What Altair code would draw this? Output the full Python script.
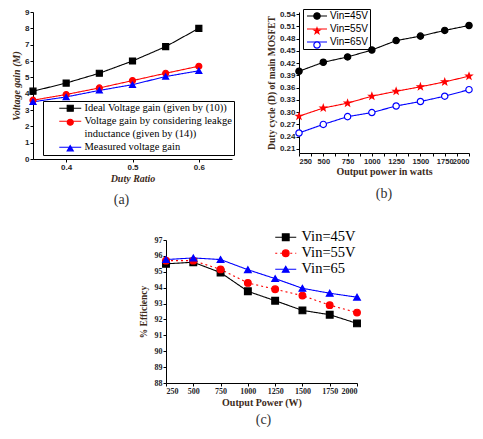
import math
import altair as alt
import pandas as pd

# ---------------- data ----------------
# Panel (a)
duty = [0.35, 0.40, 0.45, 0.50, 0.55, 0.60]
ideal_gain = [4.15, 4.65, 5.25, 6.0, 6.88, 8.0]
leak_gain = [3.6, 3.95, 4.35, 4.8, 5.25, 5.68]
meas_gain = [3.5, 3.8, 4.2, 4.55, 5.05, 5.4]
a_names = ["Ideal Voltage gain (given by (10))",
           "Voltage gain by considering leakge| inductance (given by (14))",
           "Measured voltage gain"]

# Panel (b)
power = [250, 500, 750, 1000, 1250, 1500, 1750, 2000]
duty45 = [0.40, 0.422, 0.435, 0.452, 0.475, 0.486, 0.50, 0.512]
duty55 = [0.29, 0.31, 0.322, 0.339, 0.351, 0.362, 0.374, 0.388]
duty65 = [0.249, 0.27, 0.289, 0.299, 0.315, 0.326, 0.339, 0.355]
b_names = ["Vin=45V", "Vin=55V", "Vin=65V"]

# Panel (c)
eff45 = [95.5, 95.6, 94.95, 93.77, 93.18, 92.57, 92.3, 91.75]
eff55 = [95.7, 95.7, 95.15, 94.3, 93.9, 93.5, 92.9, 92.43]
eff65 = [95.77, 95.87, 95.77, 95.13, 94.57, 93.96, 93.65, 93.4]
c_names = ["Vin=45V", "Vin=55V", "Vin=65"]

STAR = ("M0,-1L0.235,-0.324L0.951,-0.309L0.380,0.124L0.588,0.809L0,0.4"
        "L-0.588,0.809L-0.380,0.124L-0.951,-0.309L-0.235,-0.324Z")

SERIF = "Liberation Serif"
SANS = "Liberation Sans"
TXT = "#1e1e28"
TTL = "#3d2b1a"
SUF = "~"


def long_df(xs, series, names):
    rows = []
    for name, ys in zip(names, series):
        for x, y in zip(xs, ys):
            rows.append({"x": x, "y": y, "s": name, "s2": name + SUF})
    return pd.DataFrame(rows)


def panel(df, names, xscale, yscale, xaxis, yaxis, colors, fills, shapes, dashes,
          msize, line_len, line_start, lx, ly, lfont, lsize, lpad, lrow, box,
          width, height, caption):
    sw = 1.2
    r = math.sqrt(msize) / 2
    w = math.ceil(math.sqrt(msize) + sw)
    s0 = line_start - lpad - w / 2
    path = f"M{s0 / r:.3f},0H{(s0 + line_len) / r:.3f}"
    moff = s0 + line_len / 2
    lab_off = s0 + line_len + 2 - w / 2
    names2 = [n + SUF for n in names]
    common = dict(orient="none", title=None, labelFont=lfont, labelFontSize=lsize,
                  labelLimit=500, padding=lpad, rowPadding=lrow, symbolSize=msize,
                  labelOffset=lab_off, symbolStrokeWidth=sw)
    leg_line = alt.Legend(legendX=lx, legendY=ly, symbolType=path,
                          labelColor="#000000", labelExpr="split(datum.label, '|')",
                          strokeColor="#000000" if box else "transparent",
                          **common)
    leg_pt = alt.Legend(legendX=lx + moff, legendY=ly, labelColor="transparent",
                        labelExpr="indexof(datum.label, '|') >= 0 ? [' ', ' '] : ' '",
                        **common)
    base = alt.Chart(df)
    x = alt.X("x:Q", scale=xscale, axis=xaxis)
    y = alt.Y("y:Q", scale=yscale, axis=yaxis)
    line = base.mark_line(strokeWidth=1.1).encode(
        x=x, y=y,
        color=alt.Color("s:N", scale=alt.Scale(domain=names, range=colors), legend=leg_line),
        strokeDash=alt.StrokeDash("s:N", scale=alt.Scale(domain=names, range=dashes), legend=leg_line),
    )
    pts = base.mark_point(size=msize, filled=True, opacity=1, strokeWidth=sw).encode(
        x=x, y=y,
        shape=alt.Shape("s2:N", scale=alt.Scale(domain=names2, range=shapes), legend=leg_pt),
        fill=alt.Fill("s2:N", scale=alt.Scale(domain=names2, range=fills), legend=leg_pt),
        stroke=alt.Stroke("s2:N", scale=alt.Scale(domain=names2, range=colors), legend=leg_pt),
    )
    return alt.layer(line, pts).properties(width=width, height=height, title=caption)


def axis(values, fmt, title, lfont, lsize, tfont, tsize, tstyle, label_expr=None, title_pad=None):
    kw = dict(values=values, format=fmt, title=title, grid=False, labelOverlap=False,
              labelFont=lfont, labelFontSize=lsize, labelFontWeight="bold", labelColor=TXT,
              titleFont=tfont, titleFontSize=tsize, titleFontWeight="bold",
              titleFontStyle=tstyle, titleColor=TTL,
              domainColor="#000000", tickColor="#000000", tickSize=3, labelPadding=1)
    if label_expr:
        kw["labelExpr"] = label_expr
    if title_pad is not None:
        kw["titlePadding"] = title_pad
    return alt.Axis(**kw)


# ---------------- panel (a) ----------------
dfa = long_df(duty, [ideal_gain, leak_gain, meas_gain], a_names)
chart_a = panel(
    dfa, a_names,
    alt.Scale(domain=[0.35, 0.65], nice=False, zero=False),
    alt.Scale(domain=[0, 9], nice=False),
    axis([0.4, 0.5, 0.6], ".1f", "Duty Ratio", SANS, 8, SERIF, 10, "italic", title_pad=2),
    axis(list(range(0, 10)), "d", "Voltage gain (M)", SANS, 8, SERIF, 10, "italic", title_pad=3),
    ["#000000", "#ff0000", "#0000ff"], ["#000000", "#ff0000", "#0000ff"],
    ["square", "circle", "triangle-up"], [[1, 0], [1, 0], [1, 0]],
    36, 22, 15, 10, 89, SERIF, 10.5, 2, 2, True, 199, 147,
    alt.TitleParams("(a)", orient="bottom", font=SERIF, fontSize=14, fontWeight="normal",
                    color="#333333", offset=10, dx=-11),
)

# ---------------- panel (b) ----------------
dfb = long_df(power, [duty45, duty55, duty65], b_names)
chart_b = panel(
    dfb, b_names,
    alt.Scale(domain=[250, 2000], nice=False, zero=False),
    alt.Scale(domain=[0.20, 0.545], nice=False, zero=False),
    axis(list(range(250, 2001, 125)), "d", "Output power in watts", SANS, 7.5, SERIF, 10, "normal",
         label_expr="datum.value % 250 == 0 ? datum.label : ''", title_pad=2),
    axis([round(0.21 + 0.03 * i, 2) for i in range(12)], ".2f", "Duty cycle (D) of main MOSFET",
         SANS, 8, SERIF, 9.5, "normal", title_pad=3),
    ["#000000", "#ff0000", "#0000ff"], ["#000000", "#ff0000", "#ffffff"],
    ["circle", STAR, "circle"], [[1, 0], [1, 0], [1, 0]],
    40, 20, 3, 4, -3, SANS, 10, 2, 3, True, 170, 141,
    alt.TitleParams("(b)", orient="bottom", font=SERIF, fontSize=14, fontWeight="normal",
                    color="#333333", offset=10, dx=0),
)

# ---------------- panel (c) ----------------
dfc = long_df(power, [eff45, eff55, eff65], c_names)
chart_c = panel(
    dfc, c_names,
    alt.Scale(domain=[250, 2000], nice=False, zero=False),
    alt.Scale(domain=[88, 97], nice=False, zero=False),
    axis(power, "d", "Output Power (W)", SERIF, 8, SERIF, 10, "normal", title_pad=2),
    axis(list(range(88, 98)), "d", "% Efficiency", SERIF, 8, SERIF, 9.5, "normal", title_pad=6),
    ["#000000", "#ff0000", "#0000ff"], ["#000000", "#ff0000", "#0000ff"],
    ["square", "circle", "triangle-up"], [[1, 0], [2, 3], [1, 0]],
    45, 21, 0, 106, -10, SERIF, 14.5, 0, 1, False, 191, 143,
    alt.TitleParams("(c)", orient="bottom", font=SERIF, fontSize=14, fontWeight="normal",
                    color="#333333", offset=6, dx=2),
)

spacer = alt.Chart(pd.DataFrame({"v": [0]})).mark_point(opacity=0).encode(
    x=alt.X("v:Q", axis=None), y=alt.Y("v:Q", axis=None)
).properties(width=77, height=10)

RES = dict(color="independent", shape="independent", fill="independent",
           stroke="independent", strokeDash="independent", x="independent", y="independent")

top = alt.hconcat(chart_a, chart_b, spacing=31).resolve_scale(**RES)
bottom = alt.hconcat(spacer, chart_c, spacing=28).resolve_scale(**RES)
chart = alt.vconcat(top, bottom, spacing=22).resolve_scale(**RES).properties(
    padding={"left": 3, "top": 0, "right": 0, "bottom": 0}
).configure_view(stroke=None)

chart.save("out.html", embed_options={"renderer": "svg", "actions": False})
